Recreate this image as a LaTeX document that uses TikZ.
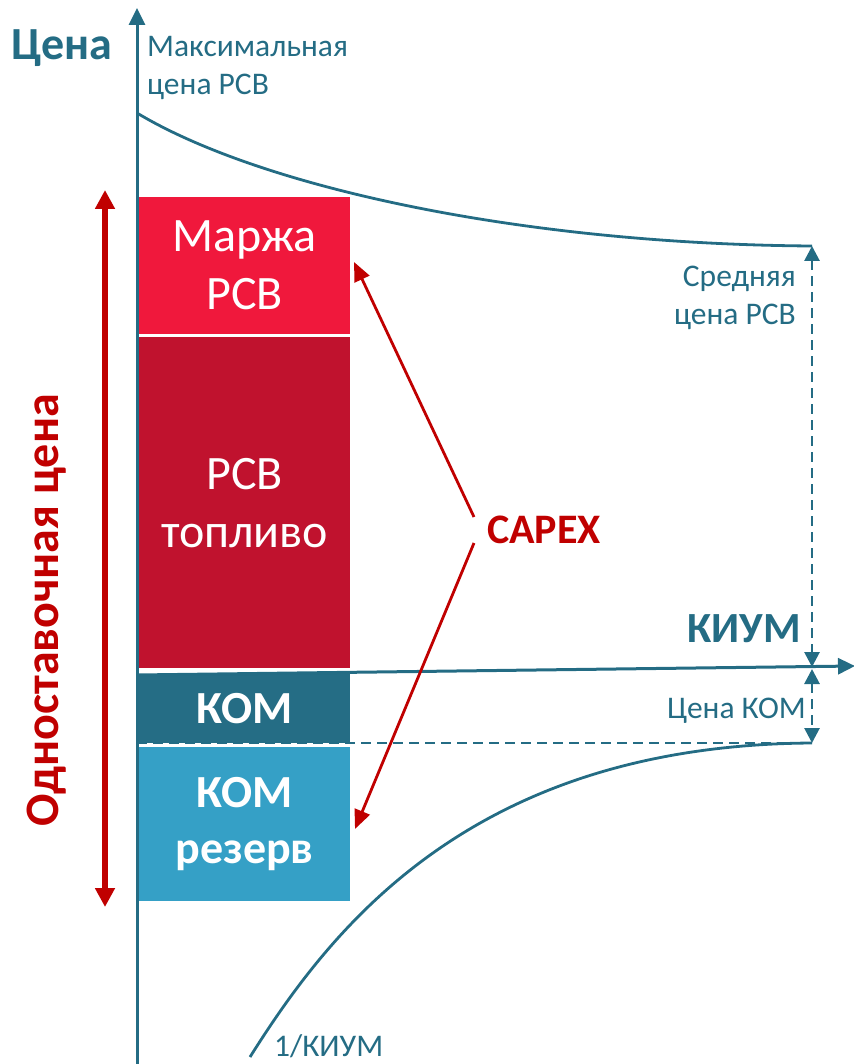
\documentclass[tikz,border=0pt]{standalone}
\usepackage{fontspec}
\setmainfont{Carlito}
\usetikzlibrary{arrows.meta}
\definecolor{teal1}{RGB}{36,108,132}
\definecolor{marg}{RGB}{240,24,60}
\definecolor{fuel}{RGB}{192,18,46}
\definecolor{kom}{RGB}{37,109,133}
\definecolor{komr}{RGB}{53,160,198}
\definecolor{capred}{RGB}{192,0,0}
\tikzset{
  axisline/.style={draw=teal1, line width=3pt, -{Triangle[length=17pt,width=16pt]}},
  curveline/.style={draw=teal1, line width=2.8pt},
  dashline/.style={draw=teal1, line width=2.8pt, dash pattern=on 10pt off 6pt},
  dimarrow/.style={dashline, {Triangle[length=15pt,width=15pt]}-{Triangle[length=15pt,width=15pt]}},
  bar/.style={draw=white, line width=1.2pt, minimum width=212pt, anchor=north west, inner sep=0pt, text=white, align=center, font=\fontsize{48}{58}\selectfont},
  lbl/.style={text=teal1, font=\fontsize{31.5}{38}\selectfont, inner sep=0pt},
  capexarrow/.style={draw=capred, line width=2.8pt, -{Triangle[length=19pt,width=16pt]}},
}
\begin{document}
\begin{tikzpicture}[x=1pt,y=-1pt]
\useasboundingbox (0,0) rectangle (853,1064);
% boxes
\node[bar, fill=marg, minimum height=138pt] (marzha) at (138,196) {Маржа\\РСВ};
\node[bar, fill=fuel, minimum height=332pt] (fuel) at (138,336) {РСВ\\топливо};
\node[bar, fill=kom, minimum height=70pt, font=\fontsize{46}{56}\selectfont\bfseries] (kom) at (138,673) {КОМ};
\node[bar, fill=komr, minimum height=155pt, font=\fontsize{46}{56}\selectfont\bfseries] (komr) at (138,746) {КОМ\\резерв};
% axes
\coordinate (yb) at (137,1064);
\coordinate (yt) at (137,8);
\coordinate (xl) at (137,675);
\coordinate (xr) at (855,666);
\draw[axisline] (yb) -- (yt);
\draw[axisline] (xl) -- (xr);
% curves
\coordinate (maxp) at (137,113);
\coordinate (avgp) at (812,246);
\coordinate (kiumlow) at (250,1057);
\coordinate (komp) at (812,743);
\draw[curveline] (maxp) .. controls (260,187) and (520,244) .. (avgp);
\draw[curveline] (kiumlow) .. controls (330,930) and (470,745) .. (komp);
% dashed
\coordinate (dl) at (137,743);
\coordinate (ax1) at (812,667);
\coordinate (ax2) at (812,669);
\draw[dashline] (dl) -- (komp);
\draw[dimarrow] (avgp) -- (ax1);
\draw[dimarrow] (ax2) -- (komp);
% labels
\node[lbl, anchor=base west, font=\fontsize{46}{54}\selectfont\bfseries] (price) at (11,60) {Цена};
\node[lbl, anchor=base west, align=left] (maxlbl) at (147,95) {Максимальная\\цена РСВ};
\node[lbl, anchor=base east, align=right] (avglbl) at (796,324) {Средняя\\цена РСВ};
\node[lbl, anchor=base east, font=\fontsize{43}{50}\selectfont\bfseries] (kium) at (801,642) {КИУМ};
\node[lbl, anchor=base east] (komlbl) at (806,718) {Цена КОМ};
\node[lbl, anchor=base west] (invk) at (274,1056) {1/КИУМ};
% CAPEX
\node[text=capred, font=\fontsize{42}{50}\selectfont\bfseries, inner sep=0pt] (capex) at (544,530) {CAPEX};
\coordinate (c1) at (474,517);
\coordinate (c2) at (474,543);
\coordinate (t1) at (354,262);
\coordinate (t2) at (355,829);
\draw[capexarrow] (c1) -- (t1);
\draw[capexarrow] (c2) -- (t2);
% single-rate price
\coordinate (ra) at (105,907);
\coordinate (rb) at (105,190);
\draw[draw=capred, line width=6pt, {Triangle[length=19pt,width=19pt]}-{Triangle[length=19pt,width=19pt]}] (ra) -- (rb);
\node[rotate=90, text=capred, font=\fontsize{48}{56}\selectfont\bfseries, inner sep=0pt] (single) at (47,610) {Одноставочная цена};
\end{tikzpicture}
\end{document}
